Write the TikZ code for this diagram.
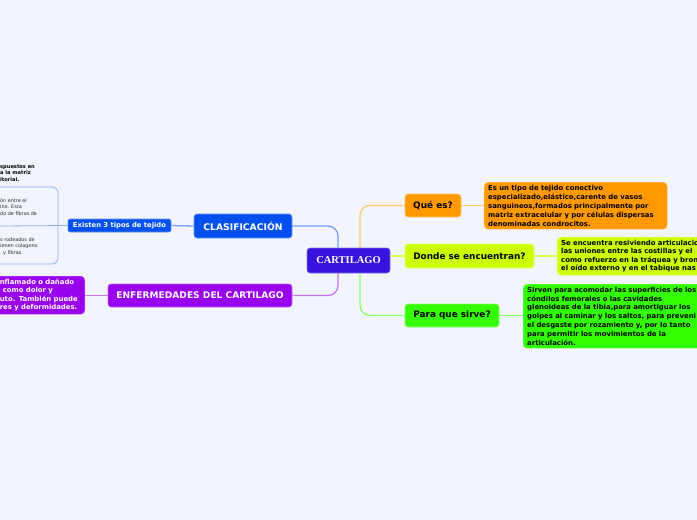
\documentclass[tikz,border=0pt]{standalone}
\usepackage{fontspec}
\newfontfamily\verd{DejaVu Sans}
\newfontfamily\tms{Liberation Serif}
\definecolor{bgc}{RGB}{243,245,254}
\definecolor{cartc}{RGB}{55,18,220}
\definecolor{bluec}{RGB}{0,80,240}
\definecolor{violc}{RGB}{153,0,238}
\definecolor{orc}{RGB}{255,153,0}
\definecolor{ylc}{RGB}{204,255,0}
\definecolor{grc}{RGB}{51,255,0}
\definecolor{grayt}{RGB}{45,45,45}
\tikzset{
 topic/.style={rounded corners=3pt, inner sep=0pt, align=center, line width=0.6pt,
   font=\verd\bfseries\fontsize{8.9}{11}\selectfont},
 txtbox/.style={rounded corners=4pt, inner xsep=4pt, inner ysep=2.5pt, align=left,
   font=\verd\bfseries\fontsize{6.9}{9}\selectfont, text=black},
 conn/.style={line width=1.3pt, rounded corners=10pt},
 thinconn/.style={line width=0.8pt, rounded corners=6pt},
 cuttext/.style={inner sep=0pt, align=left, anchor=north west},
}
\begin{document}
\begin{tikzpicture}[x=1pt,y=-1pt]
\useasboundingbox (0,0) rectangle (697,520);
\clip (0,0) rectangle (697,520);
\fill[bgc] (0,0) rectangle (697,520);

% central
\node[topic, fill=cartc, draw=cartc!60!white, minimum width=83, minimum height=25,
  font=\tms\bfseries\fontsize{10.5}{12}\selectfont, text=white] (cart) at (348.5,260.5) {CARTILAGO};

% left side
\node[topic, fill=bluec, draw=bluec!60!white, minimum width=98, minimum height=24, text=white,
  font=\verd\bfseries\fontsize{9.2}{11}\selectfont] (clas) at (243,226) {CLASIFICACIÓN};
\node[topic, fill=bluec, draw=bluec!60!white, minimum width=103, minimum height=13, rounded corners=2pt, text=white,
  font=\verd\bfseries\fontsize{6.8}{8}\selectfont] (exist) at (119.5,225.5) {Existen 3 tipos de tejido};
\node[topic, fill=violc, draw=violc!60!white, minimum width=184, minimum height=23, text=white,
  font=\verd\bfseries\fontsize{9.1}{11}\selectfont] (enf) at (200,295.5) {ENFERMEDADES DEL CARTILAGO};
\node[txtbox, fill=violc, draw=violc!60!white, text=white, anchor=north east, text width=81, minimum height=38,
  font=\verd\bfseries\fontsize{6.9}{8.4}\selectfont] (enfbox) at (85,276)
  {\mbox{nflamado o dañado}\\\mbox{\hspace*{3pt}como dolor y}\\\mbox{uto. También puede}\\\mbox{res y deformidades.}};

% right side
\node[topic, fill=orc, draw=orc!60!white, minimum width=56, minimum height=23] (que) at (433,205.5) {Qué es?};
\node[topic, fill=ylc, draw=ylc!60!white, minimum width=129, minimum height=24] (donde) at (469.5,256) {Donde se encuentran?};
\node[topic, fill=grc, draw=grc!60!white, minimum width=94, minimum height=23] (para) at (452,315.5) {Para que sirve?};

\node[txtbox, fill=orc, draw=orc!60!white, anchor=north west, text width=175, minimum height=47] (qbox) at (484,182)
  {\mbox{Es un tipo de tejido conectivo}\\\mbox{especializado,elástico,carente de vasos}\\\mbox{sanguineos,formados principalmente por}\\\mbox{matriz extracelular y por células dispersas}\\\mbox{denominadas condrocitos.}};
\node[txtbox, fill=ylc, draw=ylc!60!white, anchor=north west, text width=200, minimum height=38,
  font=\verd\bfseries\fontsize{6.9}{8.5}\selectfont] (dbox) at (557,237)
  {\mbox{Se encuentra resiviendo articulacio}\\\mbox{las uniones entre las costillas y el}\\\mbox{como refuerzo en la tráquea y bron}\\\mbox{el oído externo y en el tabique nas}};
\node[txtbox, fill=grc, draw=grc!60!white, anchor=north west, text width=200, minimum height=64,
  font=\verd\bfseries\fontsize{6.9}{8.8}\selectfont] (pbox) at (523,284)
  {\mbox{Sirven para acomodar las superficies de los}\\\mbox{cóndilos femorales o las cavidades}\\\mbox{glenoideas de la tibia,para amortiguar los}\\\mbox{golpes al caminar y los saltos, para preveni}\\\mbox{el desgaste por rozamiento y, por lo tanto}\\\mbox{para permitir los movimientos de la}\\\mbox{articulación.}};

% cut-off texts at the left edge
\node[cuttext, font=\verd\bfseries\fontsize{5.1}{6.7}\selectfont, text=black] (t1) at (0,164.5)
  {spuestos en\\a la matriz\\itorial.};
\node[cuttext, font=\verd\fontsize{4.9}{6.5}\selectfont, text=grayt] (t2) at (0,198)
  {ón entre el\\ino. Esta\\do de fibras de};
\node[cuttext, font=\verd\fontsize{4.9}{6.5}\selectfont, text=grayt] (t3) at (0,237.5)
  {s rodeados de\\ienen colageno\\\hspace*{3pt}y fibras};

\coordinate (c1) at (0,187);
\coordinate (c2) at (0,226);
\coordinate (c3) at (0,264);
\coordinate (bx) at (58,226);

% connectors
\draw[conn, orc!55!white] ([xshift=11.5pt]cart.north) |- (que.west);
\draw[conn, grc!60!white] ([xshift=11.5pt]cart.south) |- (para.west);
\draw[conn, ylc!70!white] (cart.east |- donde.west) -- (donde.west);
\draw[conn, bluec!55!white] (clas.east) -| ([xshift=-10.5pt]cart.north);
\draw[conn, violc!55!white] (enf.east) -| ([xshift=-10.5pt]cart.south);
\draw[conn, bluec!55!white] (exist.east) -- (clas.west);
\draw[conn, violc!55!white] (enfbox.east |- enf.west) -- (enf.west);
\draw[conn, orc!55!white] (que.east) -- (qbox.west |- que.east);
\draw[conn, ylc!70!white] (donde.east) -- (dbox.west |- donde.east);
\draw[conn, grc!60!white] (para.east) -- (pbox.west |- para.east);

% left bracket
\draw[thinconn, bluec!45!white] (exist.west) -- (c2);
\draw[thinconn, bluec!45!white] (c1) -| (bx |- c3) -- (c3);
\end{tikzpicture}
\end{document}
